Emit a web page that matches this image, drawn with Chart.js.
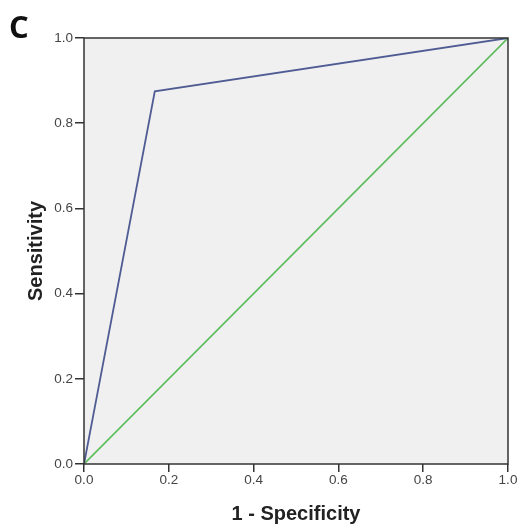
<!DOCTYPE html>
<html>
<head>
<meta charset="utf-8">
<script src="https://cdn.jsdelivr.net/npm/chart.js@4"></script>
<style>
    html, body { margin: 0; padding: 0; background: #ffffff; }
    #wrap { position: relative; width: 520px; height: 526px; }
    #panelLabel {
        position: absolute; left: 9px; top: 5px;
        font-family: "Open Sans", "Liberation Sans", sans-serif;
        font-weight: bold; font-size: 31px; color: #111;
    }
</style>
</head>
<body>
<div id="wrap">
    <canvas id="rocChart" width="520" height="526"></canvas>
    <div id="panelLabel">C</div>
</div>
<script>
/* ROC curve values */
const rocFpr = [0, 0.167, 1];
const rocTpr = [0, 0.875, 1];
const refFpr = [0, 1];
const refTpr = [0, 1];
const tickValues = [0, 0.2, 0.4, 0.6, 0.8, 1.0];

function toPoints(xs, ys) {
    return xs.map((x, i) => ({ x: x, y: ys[i] }));
}

/* Grey plot background and frame around chart area */
const framePlugin = {
    id: 'frame',
    beforeDraw(chart) {
        const a = chart.chartArea;
        const ctx = chart.ctx;
        ctx.save();
        ctx.fillStyle = '#f0f0f0';
        ctx.fillRect(a.left, a.top, a.right - a.left, a.bottom - a.top);
        ctx.restore();
    },
    afterDraw(chart) {
        const a = chart.chartArea;
        const ctx = chart.ctx;
        ctx.save();
        ctx.strokeStyle = '#333333';
        ctx.lineWidth = 1.5;
        ctx.strokeRect(a.left, a.top, a.right - a.left, a.bottom - a.top);
        ctx.restore();
    }
};

const tickFont = { family: 'Liberation Sans, Arial, sans-serif', size: 13.5 };
const titleFont = { family: 'Liberation Sans, Arial, sans-serif', size: 20, weight: 'bold' };

new Chart(document.getElementById('rocChart').getContext('2d'), {
    type: 'scatter',
    data: {
        datasets: [
            {
                label: 'ROC',
                data: toPoints(rocFpr, rocTpr),
                showLine: true,
                borderColor: '#4f5b93',
                borderWidth: 1.8,
                pointRadius: 0,
                tension: 0
            },
            {
                label: 'Reference',
                data: toPoints(refFpr, refTpr),
                showLine: true,
                borderColor: '#5cbd5c',
                borderWidth: 1.6,
                pointRadius: 0,
                tension: 0
            }
        ]
    },
    options: {
        responsive: false,
        animation: false,
        layout: { padding: { top: 38, right: 12, left: 0, bottom: 0 } },
        plugins: {
            legend: { display: false },
            tooltip: { enabled: false }
        },
        scales: {
            x: {
                type: 'linear',
                min: 0,
                max: 1,
                afterBuildTicks: (scale) => { scale.ticks = tickValues.map(v => ({ value: v })); },
                afterFit: (scale) => { scale.height = 62; },
                ticks: {
                    color: '#444444',
                    font: tickFont,
                    padding: 0,
                    callback: (v) => v.toFixed(1)
                },
                grid: {
                    drawOnChartArea: false,
                    drawTicks: true,
                    tickLength: 8,
                    color: '#333333',
                    lineWidth: 1.5
                },
                border: { display: false },
                title: {
                    display: true,
                    text: '1 - Specificity',
                    color: '#222222',
                    font: titleFont,
                    padding: { top: 0, bottom: 0 }
                }
            },
            y: {
                type: 'linear',
                min: 0,
                max: 1,
                afterBuildTicks: (scale) => { scale.ticks = tickValues.map(v => ({ value: v })); },
                afterFit: (scale) => { scale.width = 84; },
                ticks: {
                    color: '#444444',
                    font: tickFont,
                    padding: 2,
                    callback: (v) => v.toFixed(1)
                },
                grid: {
                    drawOnChartArea: false,
                    drawTicks: true,
                    tickLength: 9,
                    color: '#333333',
                    lineWidth: 1.5
                },
                border: { display: false },
                title: {
                    display: true,
                    text: 'Sensitivity',
                    color: '#222222',
                    font: titleFont,
                    padding: { top: 24, bottom: 0 }
                }
            }
        }
    },
    plugins: [framePlugin]
});
</script>
</body>
</html>
